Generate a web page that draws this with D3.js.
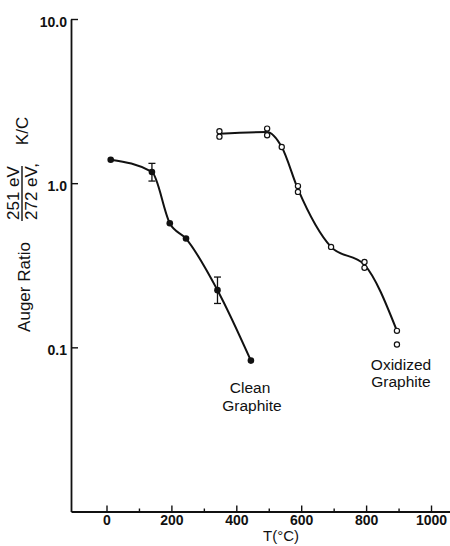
<!DOCTYPE html>
<html>
<head>
<meta charset="utf-8">
<script src="https://cdn.jsdelivr.net/npm/d3@7/dist/d3.min.js"></script>
<style>
  html, body { margin: 0; padding: 0; background: #fff; }
  svg { display: block; font-family: "Liberation Sans", Arial, Helvetica, sans-serif; }
</style>
</head>
<body>
<script>
// Clean graphite: temperature (°C) and Auger ratio K/C
const cleanT = [13, 140, 195, 245, 342, 445];
const cleanRatio = [1.39, 1.17, 0.57, 0.46, 0.223, 0.083];

// Error bars on the clean-graphite series
const errT = [140, 342];
const errLow = [1.03, 0.185];
const errHigh = [1.32, 0.268];

// Oxidized graphite measurements (repeat readings at several temperatures)
const oxT = [348, 348, 495, 495, 540, 590, 590, 692, 795, 795, 895, 895];
const oxRatio = [2.07, 1.92, 2.15, 1.96, 1.66, 0.96, 0.885, 0.409, 0.331, 0.305, 0.126, 0.104];

// Trend curve drawn through the oxidized readings
const oxCurveT = [348, 495, 540, 590, 692, 795, 895];
const oxCurveRatio = [2.0, 2.05, 1.66, 0.92, 0.409, 0.318, 0.126];

// Axis ticks
const xMajorTicks = [0, 200, 400, 600, 800, 1000];
const xMinorTicks = [100, 300, 500, 700, 900];
const yTicks = [0.1, 1, 10];
const yTickLabels = ["0.1", "1.0", "10.0"];

const W = 450, H = 546;
const svg = d3.select("body").append("svg")
  .attr("width", W).attr("height", H)
  .attr("viewBox", `0 0 ${W} ${H}`);

svg.append("rect").attr("width", W).attr("height", H).attr("fill", "#fff");

const x = d3.scaleLinear().domain([-109.4, 1058.5]).range([71, 450]);
const y = d3.scaleLog().domain([0.01, 10]).range([511.5, 19]);

const ink = "#111";

// X axis: major ticks with labels, minor ticks without
const xAxisG = svg.append("g").attr("transform", `translate(0,${y(0.01)})`);
xAxisG.call(d3.axisBottom(x).tickValues(xMajorTicks).tickFormat(d3.format("d"))
  .tickSize(-6).tickSizeOuter(0).tickPadding(4));
xAxisG.append("g").call(d3.axisBottom(x).tickValues(xMinorTicks).tickFormat("")
  .tickSize(-3).tickSizeOuter(0))
  .select(".domain").remove();
xAxisG.selectAll("path.domain").attr("stroke", ink).attr("stroke-width", 1.8);
xAxisG.selectAll(".tick line").attr("stroke", ink).attr("stroke-width", 1.4);
xAxisG.selectAll(".tick text")
  .attr("font-size", 14).attr("font-weight", "bold").attr("fill", ink)
  .attr("font-family", "'Liberation Sans', Arial, sans-serif");

// Y axis (log scale), ticks pointing inward
const yAxisG = svg.append("g").attr("transform", `translate(${x(-109.4)},0)`);
yAxisG.call(d3.axisLeft(y).tickValues(yTicks)
  .tickFormat((d, i) => yTickLabels[i])
  .tickSize(-7).tickSizeOuter(0).tickPadding(4));
yAxisG.selectAll("path.domain").attr("stroke", ink).attr("stroke-width", 1.8);
yAxisG.selectAll(".tick line").attr("stroke", ink).attr("stroke-width", 1.4);
yAxisG.selectAll(".tick text")
  .attr("font-size", 14).attr("font-weight", "bold").attr("fill", ink)
  .attr("dy", "0.5em")
  .attr("font-family", "'Liberation Sans', Arial, sans-serif");

// Axis titles
svg.append("text")
  .attr("x", 281).attr("y", 541)
  .attr("text-anchor", "middle")
  .attr("font-size", 15).attr("fill", ink)
  .text("T(°C)");

const yTitle = svg.append("g").attr("fill", ink).attr("font-size", 17);
yTitle.append("text")
  .attr("transform", "translate(30,287) rotate(-90)")
  .attr("text-anchor", "middle")
  .text("Auger Ratio");
yTitle.append("text")
  .attr("transform", "translate(18.5,220) rotate(-90)")
  .attr("text-anchor", "start")
  .text("251 eV");
yTitle.append("text")
  .attr("transform", "translate(36.5,220) rotate(-90)")
  .attr("text-anchor", "start")
  .text("272 eV,");
yTitle.append("line")
  .attr("x1", 22).attr("x2", 22).attr("y1", 221).attr("y2", 166)
  .attr("stroke", ink).attr("stroke-width", 1.4);
yTitle.append("text")
  .attr("transform", "translate(27.5,131) rotate(-90)")
  .attr("text-anchor", "middle")
  .text("K/C");

// Curves
const line = d3.line()
  .x(d => x(d[0])).y(d => y(d[1]))
  .curve(d3.curveMonotoneX);

svg.append("path")
  .datum(cleanT.map((t, i) => [t, cleanRatio[i]]))
  .attr("d", line)
  .attr("fill", "none").attr("stroke", ink).attr("stroke-width", 2);

svg.append("path")
  .datum(oxCurveT.map((t, i) => [t, oxCurveRatio[i]]))
  .attr("d", line)
  .attr("fill", "none").attr("stroke", ink).attr("stroke-width", 2);

// Error bars
const eb = svg.append("g").attr("stroke", ink).attr("stroke-width", 1.3);
errT.forEach((t, i) => {
  const cx = x(t);
  eb.append("line").attr("x1", cx).attr("x2", cx)
    .attr("y1", y(errLow[i])).attr("y2", y(errHigh[i]));
  [errLow[i], errHigh[i]].forEach(v => {
    eb.append("line").attr("x1", cx - 3.5).attr("x2", cx + 3.5)
      .attr("y1", y(v)).attr("y2", y(v));
  });
});

// Markers: filled for clean graphite, open for oxidized graphite
svg.append("g").selectAll("circle")
  .data(cleanT.map((t, i) => [t, cleanRatio[i]]))
  .join("circle")
  .attr("cx", d => x(d[0])).attr("cy", d => y(d[1]))
  .attr("r", 3.3).attr("fill", ink);

svg.append("g").selectAll("circle")
  .data(oxT.map((t, i) => [t, oxRatio[i]]))
  .join("circle")
  .attr("cx", d => x(d[0])).attr("cy", d => y(d[1]))
  .attr("r", 2.6).attr("fill", "#fff")
  .attr("stroke", ink).attr("stroke-width", 1.2);

// Series labels
const lab = svg.append("g").attr("fill", ink).attr("font-size", 15.5)
  .attr("text-anchor", "middle");
lab.append("text").attr("x", 250).attr("y", 393).text("Clean");
lab.append("text").attr("x", 252).attr("y", 411).text("Graphite");
lab.append("text").attr("x", 401).attr("y", 370).text("Oxidized");
lab.append("text").attr("x", 401).attr("y", 387).text("Graphite");
</script>
</body>
</html>
